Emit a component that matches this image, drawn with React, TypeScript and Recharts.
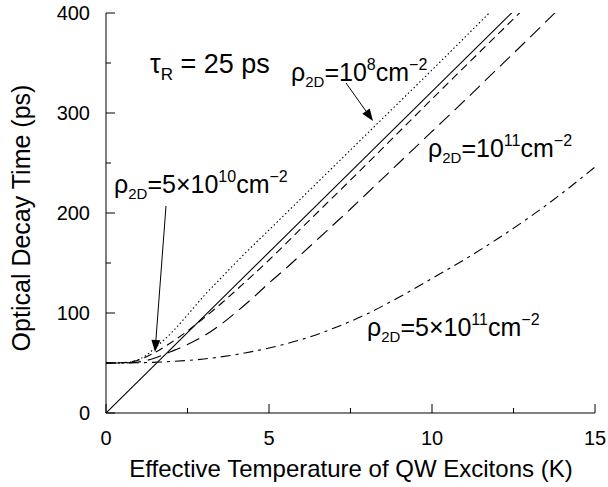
import { LineChart, Line, XAxis, YAxis } from "recharts";

// axis ticks
const tempTicks = [0, 2.5, 5, 7.5, 10, 12.5, 15];
const tempLabels = [0, 5, 10, 15];
const decayTicks = [0, 50, 100, 150, 200, 250, 300, 350, 400];
const decayLabels = [0, 100, 200, 300, 400];

// tau_R * ... classical limit (solid)
const solidT = [0, 13];
const solidTau = [0, 418];

// rho = 1e8 cm^-2 (dotted)
const dottedT = [0, 0.5, 0.75, 1, 1.25, 1.5, 2, 2.5, 3, 3.5, 4, 5, 6, 8, 10, 12];
const dottedTau = [50, 50.2, 51, 53.5, 58, 65, 80, 98, 117, 134, 151, 183, 215, 279, 343, 408];

// rho = 5e10 cm^-2 (short dash)
const shortT = [0, 0.5, 1, 1.5, 2, 2.5, 3, 3.5, 4, 5, 6, 8, 10, 13];
const shortTau = [50, 50.3, 53, 60.5, 70.5, 82, 95, 108.5, 123, 153, 185, 249, 314, 410];

// rho = 1e11 cm^-2 (long dash)
const longT = [0, 0.5, 1, 1.5, 2, 2.5, 3, 3.5, 4, 4.5, 5, 5.5, 6, 6.5, 7, 7.5, 8, 9, 10, 11, 12, 13, 14];
const longTau = [50, 50, 51, 55, 61.5, 68.5, 77, 88, 101, 115, 130, 144, 159, 174, 189, 204, 219.5, 250.5, 281.5, 312.5, 344, 375.5, 407.5];

// rho = 5e11 cm^-2 (dash-dot)
const dashDotT = [0, 1, 2, 3, 4, 5, 6, 7, 8, 9, 10, 11, 12, 13, 14, 15];
const dashDotTau = [50, 50.3, 51.5, 54, 58.5, 65, 73.5, 85, 99, 116, 134.5, 153.5, 174, 196, 220, 246];

const zip = (xs: number[], ys: number[]) => xs.map((x, i) => ({ x, y: ys[i] }));

const series = [
  { key: "solid", data: zip(solidT, solidTau), dash: undefined },
  { key: "dotted", data: zip(dottedT, dottedTau), dash: "1.5 2.5" },
  { key: "short", data: zip(shortT, shortTau), dash: "8 5" },
  { key: "long", data: zip(longT, longTau), dash: "14 7" },
  { key: "dashdot", data: zip(dashDotT, dashDotTau), dash: "10 5 3 5" },
];

const FONT = "'Liberation Sans', Arial, Helvetica, sans-serif";

function makeTick(side: string, labelled: number[], showText: boolean) {
  return (props: any) => {
    const { x, y, payload } = props;
    const v = payload.value;
    const major = labelled.includes(v);
    const len = major ? 9 : 5;
    let line;
    let label = null;
    if (side === "bottom") {
      line = <line x1={x} y1={y} x2={x} y2={y - len} stroke="#000" />;
      if (showText && major)
        label = (
          <text x={x} y={y + 32} textAnchor="middle" fontSize={20} fontFamily={FONT} fill="#000">
            {v}
          </text>
        );
    } else if (side === "top") {
      line = <line x1={x} y1={y} x2={x} y2={y + len} stroke="#000" />;
    } else if (side === "left") {
      line = <line x1={x} y1={y} x2={x + len} y2={y} stroke="#000" />;
      if (showText && major)
        label = (
          <text x={x - 16} y={y + 7} textAnchor="end" fontSize={20} fontFamily={FONT} fill="#000">
            {v}
          </text>
        );
    } else {
      line = <line x1={x} y1={y} x2={x - len} y2={y} stroke="#000" />;
    }
    return (
      <g>
        {line}
        {label}
      </g>
    );
  };
}

// label with "ρ_2D = ... cm^-2"
function Rho({ x, y, pre, exp }: { x: number; y: number; pre: string; exp: string }) {
  return (
    <text x={x} y={y} fontSize={25} fontFamily={FONT} fill="#000">
      <tspan>ρ</tspan>
      <tspan fontSize={15} dy={6}>2D</tspan>
      <tspan dy={-6}>{"=" + pre + "10"}</tspan>
      <tspan fontSize={16} dy={-11}>{exp}</tspan>
      <tspan dy={11}>cm</tspan>
      <tspan fontSize={16} dy={-11}>−2</tspan>
    </text>
  );
}

function Arrow({ x1, y1, x2, y2 }: { x1: number; y1: number; x2: number; y2: number }) {
  const dx = x2 - x1;
  const dy = y2 - y1;
  const L = Math.hypot(dx, dy);
  const ux = dx / L;
  const uy = dy / L;
  const hl = 12;
  const hw = 4.5;
  const bx = x2 - ux * hl;
  const by = y2 - uy * hl;
  const pts = `${x2},${y2} ${bx - uy * hw},${by + ux * hw} ${bx + uy * hw},${by - ux * hw}`;
  return (
    <g>
      <line x1={x1} y1={y1} x2={bx} y2={by} stroke="#000" strokeWidth={1} />
      <polygon points={pts} fill="#000" />
    </g>
  );
}

export default function App() {
  return (
    <div style={{ position: "absolute", left: 0, top: 0, width: 608, height: 487, background: "#fff" }}>
      <LineChart width={608} height={487} margin={{ top: 13, right: 13, bottom: 0, left: 0 }}>
        <XAxis
          dataKey="x"
          type="number"
          domain={[0, 15]}
          ticks={tempTicks}
          interval={0}
          allowDataOverflow
          height={74}
          tickSize={0}
          tickMargin={0}
          tickLine={false}
          axisLine={{ stroke: "#000" }}
          tick={makeTick("bottom", tempLabels, true)}
        />
        <XAxis
          xAxisId="top"
          orientation="top"
          dataKey="x"
          type="number"
          domain={[0, 15]}
          ticks={tempTicks}
          interval={0}
          height={0}
          tickSize={0}
          tickMargin={0}
          tickLine={false}
          axisLine={{ stroke: "#000" }}
          tick={makeTick("top", tempLabels, false)}
        />
        <YAxis
          type="number"
          domain={[0, 400]}
          ticks={decayTicks}
          interval={0}
          allowDataOverflow
          width={106}
          tickSize={0}
          tickMargin={0}
          tickLine={false}
          axisLine={{ stroke: "#000" }}
          tick={makeTick("left", decayLabels, true)}
        />
        <YAxis
          yAxisId="right"
          orientation="right"
          type="number"
          domain={[0, 400]}
          ticks={decayTicks}
          interval={0}
          width={0}
          tickSize={0}
          tickMargin={0}
          tickLine={false}
          axisLine={{ stroke: "#000" }}
          tick={makeTick("right", decayLabels, false)}
        />
        {series.map((s) => (
          <Line
            key={s.key}
            data={s.data}
            dataKey="y"
            type="monotone"
            stroke="#000"
            strokeWidth={1.1}
            strokeDasharray={s.dash}
            dot={false}
            activeDot={false}
            isAnimationActive={false}
          />
        ))}
      </LineChart>
      <svg
        width={608}
        height={487}
        style={{ position: "absolute", left: 0, top: 0, pointerEvents: "none" }}
      >
        <text x={351} y={477} textAnchor="middle" fontSize={24} fontFamily={FONT} fill="#000">
          Effective Temperature of QW Excitons (K)
        </text>
        <text
          transform="translate(30,218) rotate(-90)"
          textAnchor="middle"
          fontSize={25}
          fontFamily={FONT}
          fill="#000"
        >
          Optical Decay Time (ps)
        </text>
        <text x={150} y={73} fontSize={27} fontFamily={FONT} fill="#000">
          <tspan>τ</tspan>
          <tspan fontSize={17} dy={7}>R</tspan>
          <tspan dy={-7}>{" = 25 ps"}</tspan>
        </text>
        <Rho x={291} y={81} pre="" exp="8" />
        <Rho x={114} y={193} pre="5×" exp="10" />
        <Rho x={428} y={157} pre="" exp="11" />
        <Rho x={367} y={336} pre="5×" exp="11" />
        <Arrow x1={346} y1={83} x2={373} y2={121} />
        <Arrow x1={166} y1={206} x2={155} y2={352} />
      </svg>
    </div>
  );
}
